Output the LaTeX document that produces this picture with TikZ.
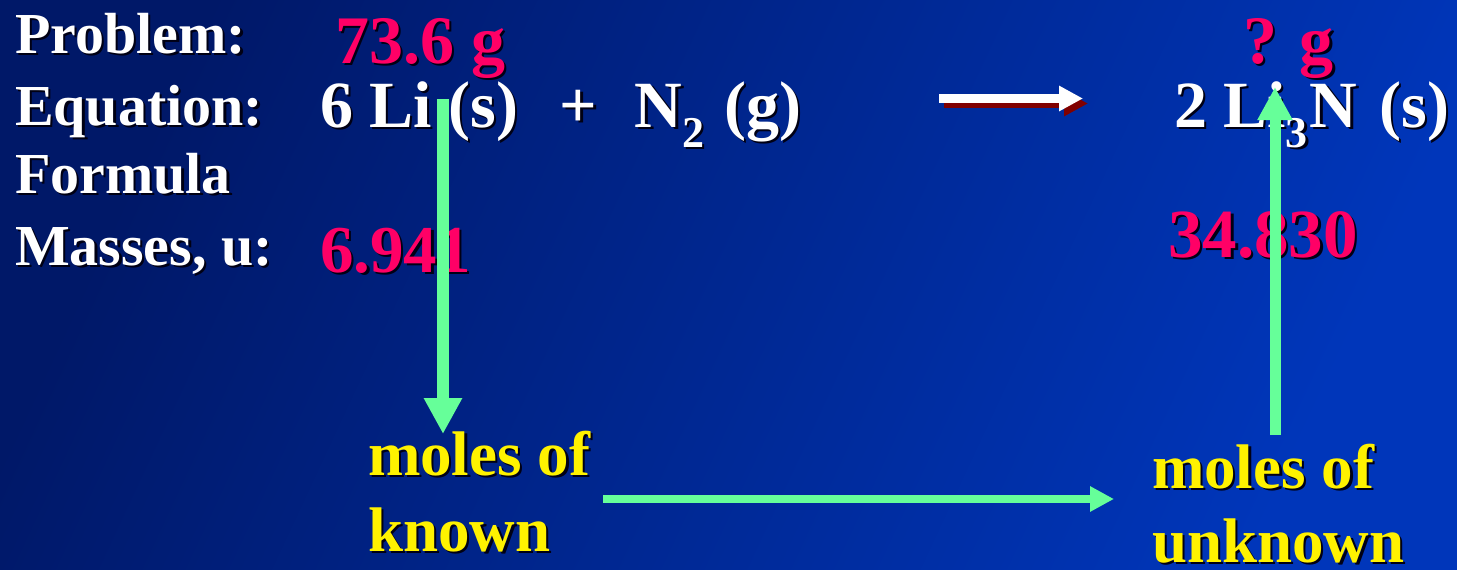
\documentclass[tikz,border=0pt]{standalone}
\usepackage{fontspec}
\setmainfont{Liberation Serif}
\usetikzlibrary{arrows.meta}
\definecolor{bgA}{RGB}{0,24,104}
\definecolor{bgB}{RGB}{0,54,186}
\definecolor{hot}{RGB}{255,0,102}
\definecolor{mint}{RGB}{102,255,153}
\definecolor{shadowc}{RGB}{0,0,20}
\definecolor{maroonc}{RGB}{128,0,0}
\newcommand\shd[1]{\makebox[0pt][l]{\hspace*{2.5pt}\raisebox{-2.5pt}{\color{shadowc}#1}}#1}
\newcommand\fsz[1]{\fontsize{#1}{#1}\selectfont\bfseries}
\begin{document}
\begin{tikzpicture}[x=1pt,y=-1pt,
  txt/.style={inner sep=0pt, outer sep=0pt, anchor=base west},
  lbl/.style={txt, text=white, font=\fsz{58}},
  eqn/.style={txt, text=white, font=\fsz{66}},
  num/.style={txt, text=hot, font=\fsz{68}},
  mol/.style={txt, text=yellow, font=\fsz{63}},
  garrow/.style={draw=mint, -{Triangle[length=#1, width=#1]}},
  rxarrow/.style={line width=8.4pt, -{Triangle[length=24pt, width=24pt]}}
]
\shade[shading=axis, top color=bgA, bottom color=bgB, shading angle=65] (0,0) rectangle (1457,570);
\useasboundingbox (0,0) rectangle (1457,570);

% left labels
\node[lbl] (prob) at (15,53) {\shd{Problem:}};
\node[lbl] (equa) at (15,125) {\shd{Equation:}};
\node[lbl] (form) at (15,193) {\shd{Formula}};
\node[lbl] (mass) at (15,265) {\shd{Masses, u:}};

% red values
\node[num] (given) at (335,63) {\shd{73.6 g}};
\node[num] (ask) at (1243,63) {\shd{? g}};
\node[num, font=\fsz{67}] (mLi) at (320,272) {\shd{6.941}};
\node[num, font=\fsz{69}] (mLiN) at (1168,257) {\shd{34.830}};

% equation
\node[eqn] (react) at (320,127) {\shd{6 Li (s)\hspace{42pt}+\hspace{37pt}N\raisebox{-20pt}{\fontsize{44}{44}\selectfont 2}\hspace{20pt}(g)}};
\node[eqn] (prod) at (1174,127) {\shd{2 Li\raisebox{-20pt}{\fontsize{44}{44}\selectfont 3}\hspace{2pt}N\hspace{22pt}(s)}};

% reaction arrow
\coordinate (rxs) at (939,98.5);
\coordinate (rxe) at (1083,98.5);
\draw[rxarrow, draw=maroonc, fill=maroonc] ([shift={(5,5)}]rxs) -- ([shift={(5,5)}]rxe);
\draw[rxarrow, draw=white, fill=white] (rxs) -- (rxe);

% moles texts
\node[mol] (mk1) at (368,475) {\shd{moles of}};
\node[mol] (mk2) at (368,551) {\shd{known}};
\node[mol] (mu1) at (1152,488) {\shd{moles of}};
\node[mol] (mu2) at (1152,562) {\shd{unknown}};

% green arrows
\coordinate (dA) at (443,99);
\coordinate (dB) at (443,434);
\coordinate (hA) at (603,499);
\coordinate (hB) at (1114,499);
\coordinate (uA) at (1275,435);
\coordinate (uB) at (1275,87);
\draw[garrow=36pt, line width=12pt] (dA) -- (dB);
\draw[garrow=24pt, line width=8pt] (hA) -- (hB);
\draw[garrow=33pt, line width=11pt] (uA) -- (uB);
\end{tikzpicture}
\end{document}
